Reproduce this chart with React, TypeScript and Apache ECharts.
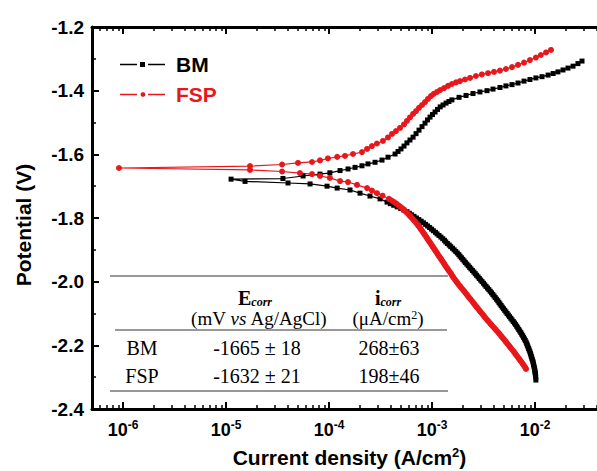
import React, { useEffect, useRef } from "react";
import * as echarts from "echarts";

// ---------- data: [potential (V), current density (A/cm2)], in measurement order ----------
const bmCurve: [number, number][] = [
  [-2.309, 1.02e-2], [-2.3, 1.016e-2], [-2.295, 1.012e-2], [-2.29, 1.007e-2], [-2.285, 1.002e-2], [-2.28, 9.98e-3],
  [-2.275, 9.91e-3], [-2.27, 9.84e-3], [-2.265, 9.76e-3], [-2.26, 9.68e-3], [-2.255, 9.6e-3], [-2.25, 9.53e-3],
  [-2.245, 9.42e-3], [-2.24, 9.31e-3], [-2.235, 9.21e-3], [-2.23, 9.12e-3], [-2.225, 9.02e-3], [-2.22, 8.91e-3],
  [-2.215, 8.79e-3], [-2.21, 8.67e-3], [-2.205, 8.55e-3], [-2.2, 8.43e-3], [-2.195, 8.32e-3], [-2.19, 8.2e-3],
  [-2.185, 8.05e-3], [-2.18, 7.89e-3], [-2.175, 7.74e-3], [-2.17, 7.59e-3], [-2.165, 7.43e-3], [-2.16, 7.28e-3],
  [-2.155, 7.11e-3], [-2.15, 6.95e-3], [-2.145, 6.79e-3], [-2.14, 6.64e-3], [-2.135, 6.48e-3], [-2.13, 6.32e-3],
  [-2.125, 6.15e-3], [-2.12, 5.98e-3], [-2.115, 5.82e-3], [-2.11, 5.66e-3], [-2.105, 5.51e-3], [-2.1, 5.36e-3],
  [-2.095, 5.22e-3], [-2.09, 5.08e-3], [-2.085, 4.94e-3], [-2.08, 4.81e-3], [-2.075, 4.69e-3], [-2.07, 4.57e-3],
  [-2.065, 4.46e-3], [-2.06, 4.35e-3], [-2.055, 4.23e-3], [-2.05, 4.11e-3], [-2.045, 4.0e-3], [-2.04, 3.89e-3],
  [-2.035, 3.78e-3], [-2.03, 3.67e-3], [-2.025, 3.56e-3], [-2.02, 3.46e-3], [-2.015, 3.35e-3], [-2.01, 3.25e-3],
  [-2.005, 3.16e-3], [-2.0, 3.06e-3], [-1.995, 2.97e-3], [-1.99, 2.88e-3], [-1.985, 2.8e-3], [-1.98, 2.71e-3],
  [-1.975, 2.63e-3], [-1.97, 2.55e-3], [-1.965, 2.47e-3], [-1.96, 2.39e-3], [-1.955, 2.32e-3], [-1.95, 2.25e-3],
  [-1.945, 2.18e-3], [-1.94, 2.11e-3], [-1.935, 2.05e-3], [-1.93, 1.99e-3], [-1.925, 1.93e-3], [-1.92, 1.87e-3],
  [-1.915, 1.82e-3], [-1.91, 1.76e-3], [-1.905, 1.7e-3], [-1.9, 1.64e-3], [-1.895, 1.58e-3], [-1.89, 1.52e-3],
  [-1.885, 1.47e-3], [-1.88, 1.41e-3], [-1.875, 1.36e-3], [-1.87, 1.32e-3], [-1.865, 1.27e-3], [-1.86, 1.22e-3],
  [-1.855, 1.17e-3], [-1.85, 1.12e-3], [-1.845, 1.08e-3], [-1.84, 1.03e-3], [-1.835, 9.9e-4], [-1.83, 9.48e-4],
  [-1.825, 9.07e-4], [-1.82, 8.67e-4], [-1.815, 8.25e-4], [-1.81, 7.85e-4], [-1.805, 7.45e-4], [-1.8, 7.06e-4],
  [-1.795, 6.69e-4], [-1.79, 6.34e-4], [-1.785, 6.02e-4], [-1.78, 5.71e-4], [-1.775, 5.33e-4], [-1.77, 4.97e-4],
  [-1.765, 4.59e-4], [-1.76, 4.25e-4], [-1.755, 3.94e-4], [-1.75, 3.66e-4], [-1.74, 3.13e-4], [-1.731, 2.5e-4],
  [-1.722, 2.0e-4], [-1.712, 1.6e-4], [-1.706, 1.2e-4], [-1.7, 9.57e-5], [-1.693, 6.55e-5], [-1.69, 4.0e-5],
  [-1.685, 1.53e-5], [-1.678, 1.12e-5],
  [-1.676, 3.57e-5], [-1.668, 5.6e-5], [-1.662, 8.18e-5], [-1.658, 1.02e-4], [-1.651, 1.28e-4], [-1.646, 1.53e-4],
  [-1.641, 1.79e-4], [-1.636, 2.09e-4], [-1.63, 2.39e-4], [-1.625, 2.8e-4], [-1.618, 3.27e-4], [-1.609, 3.74e-4],
  [-1.599, 4.38e-4], [-1.591, 4.68e-4], [-1.583, 5.0e-4], [-1.574, 5.35e-4], [-1.564, 5.71e-4], [-1.555, 6.11e-4],
  [-1.546, 6.55e-4], [-1.535, 7.0e-4], [-1.524, 7.48e-4], [-1.513, 8.0e-4], [-1.502, 8.55e-4], [-1.492, 9.04e-4],
  [-1.483, 9.57e-4], [-1.475, 1.01e-3], [-1.467, 1.07e-3], [-1.459, 1.13e-3], [-1.451, 1.2e-3], [-1.445, 1.28e-3],
  [-1.439, 1.37e-3], [-1.434, 1.46e-3], [-1.429, 1.56e-3], [-1.421, 1.83e-3], [-1.415, 2.14e-3], [-1.409, 2.5e-3],
  [-1.404, 2.92e-3], [-1.4, 3.42e-3], [-1.395, 3.91e-3], [-1.39, 4.57e-3], [-1.385, 5.22e-3], [-1.381, 5.98e-3],
  [-1.376, 6.84e-3], [-1.37, 7.82e-3], [-1.365, 8.93e-3], [-1.36, 1.02e-2], [-1.356, 1.17e-2], [-1.351, 1.34e-2],
  [-1.346, 1.5e-2], [-1.341, 1.67e-2], [-1.335, 1.87e-2], [-1.329, 2.09e-2], [-1.323, 2.34e-2], [-1.315, 2.61e-2],
  [-1.307, 2.86e-2],
];

const fspCurve: [number, number][] = [
  [-2.274, 8.18e-3], [-2.27, 8.04e-3], [-2.265, 7.85e-3], [-2.26, 7.67e-3], [-2.255, 7.48e-3], [-2.25, 7.29e-3],
  [-2.245, 7.1e-3], [-2.24, 6.92e-3], [-2.235, 6.74e-3], [-2.23, 6.56e-3], [-2.225, 6.39e-3], [-2.22, 6.22e-3],
  [-2.215, 6.05e-3], [-2.21, 5.87e-3], [-2.205, 5.71e-3], [-2.2, 5.56e-3], [-2.195, 5.4e-3], [-2.19, 5.25e-3],
  [-2.185, 5.1e-3], [-2.18, 4.95e-3], [-2.175, 4.81e-3], [-2.17, 4.67e-3], [-2.165, 4.54e-3], [-2.16, 4.41e-3],
  [-2.155, 4.27e-3], [-2.15, 4.14e-3], [-2.145, 4.01e-3], [-2.14, 3.88e-3], [-2.135, 3.76e-3], [-2.13, 3.65e-3],
  [-2.125, 3.53e-3], [-2.12, 3.42e-3], [-2.115, 3.32e-3], [-2.11, 3.23e-3], [-2.105, 3.14e-3], [-2.1, 3.05e-3],
  [-2.095, 2.96e-3], [-2.09, 2.88e-3], [-2.085, 2.8e-3], [-2.08, 2.72e-3], [-2.075, 2.64e-3], [-2.07, 2.57e-3],
  [-2.065, 2.5e-3], [-2.06, 2.43e-3], [-2.055, 2.36e-3], [-2.05, 2.29e-3], [-2.045, 2.23e-3], [-2.04, 2.17e-3],
  [-2.035, 2.11e-3], [-2.03, 2.05e-3], [-2.025, 1.99e-3], [-2.02, 1.93e-3], [-2.015, 1.88e-3], [-2.01, 1.82e-3],
  [-2.005, 1.77e-3], [-2.0, 1.73e-3], [-1.995, 1.68e-3], [-1.99, 1.64e-3], [-1.985, 1.6e-3], [-1.98, 1.56e-3],
  [-1.975, 1.53e-3], [-1.97, 1.49e-3], [-1.965, 1.45e-3], [-1.96, 1.42e-3], [-1.955, 1.38e-3], [-1.95, 1.35e-3],
  [-1.945, 1.32e-3], [-1.94, 1.29e-3], [-1.935, 1.26e-3], [-1.93, 1.23e-3], [-1.925, 1.2e-3], [-1.92, 1.17e-3],
  [-1.915, 1.14e-3], [-1.91, 1.12e-3], [-1.905, 1.09e-3], [-1.9, 1.065e-3], [-1.895, 1.04e-3], [-1.89, 1.016e-3],
  [-1.885, 9.91e-4], [-1.88, 9.69e-4], [-1.875, 9.46e-4], [-1.87, 9.23e-4], [-1.865, 9.02e-4], [-1.86, 8.8e-4],
  [-1.855, 8.61e-4], [-1.85, 8.4e-4], [-1.845, 8.19e-4], [-1.84, 8.0e-4], [-1.835, 7.8e-4], [-1.83, 7.6e-4],
  [-1.825, 7.39e-4], [-1.82, 7.2e-4], [-1.815, 6.99e-4], [-1.81, 6.79e-4], [-1.805, 6.58e-4], [-1.8, 6.38e-4],
  [-1.795, 6.17e-4], [-1.79, 5.97e-4], [-1.785, 5.77e-4], [-1.78, 5.57e-4], [-1.775, 5.36e-4], [-1.77, 5.16e-4],
  [-1.765, 4.94e-4], [-1.76, 4.73e-4], [-1.755, 4.51e-4], [-1.75, 4.29e-4], [-1.745, 4.06e-4], [-1.74, 3.82e-4],
  [-1.73, 3.31e-4], [-1.722, 2.92e-4], [-1.714, 2.61e-4], [-1.706, 2.34e-4], [-1.696, 1.87e-4], [-1.687, 1.53e-4],
  [-1.684, 1.28e-4], [-1.674, 1.02e-4], [-1.668, 8.18e-5], [-1.662, 6.84e-5], [-1.659, 5.22e-5], [-1.654, 3.5e-5],
  [-1.649, 1.71e-5], [-1.643, 9.14e-7],
  [-1.637, 1.71e-5], [-1.632, 3.5e-5], [-1.627, 5.0e-5], [-1.624, 6.84e-5], [-1.619, 8.18e-5], [-1.613, 9.77e-5],
  [-1.608, 1.2e-4], [-1.605, 1.43e-4], [-1.599, 1.71e-4], [-1.593, 2.09e-4], [-1.583, 2.34e-4], [-1.574, 2.61e-4],
  [-1.566, 2.92e-4], [-1.558, 3.34e-4], [-1.547, 3.74e-4], [-1.536, 4.09e-4], [-1.527, 4.47e-4], [-1.517, 4.89e-4],
  [-1.506, 5.35e-4], [-1.495, 5.71e-4], [-1.484, 6.11e-4], [-1.473, 6.55e-4], [-1.464, 7.0e-4], [-1.454, 7.48e-4],
  [-1.445, 8.0e-4], [-1.436, 8.55e-4], [-1.426, 9.14e-4], [-1.417, 9.77e-4], [-1.41, 1.04e-3], [-1.404, 1.12e-3],
  [-1.398, 1.2e-3], [-1.392, 1.31e-3], [-1.385, 1.43e-3], [-1.379, 1.56e-3], [-1.374, 1.71e-3], [-1.37, 1.87e-3],
  [-1.365, 2.09e-3], [-1.36, 2.34e-3], [-1.354, 2.67e-3], [-1.349, 3.05e-3], [-1.345, 3.5e-3], [-1.341, 4.0e-3],
  [-1.337, 4.57e-3], [-1.332, 5.22e-3], [-1.326, 5.98e-3], [-1.319, 6.84e-3], [-1.312, 7.82e-3], [-1.304, 8.93e-3],
  [-1.296, 1.02e-2], [-1.288, 1.14e-2], [-1.28, 1.28e-2], [-1.272, 1.43e-2],
];

const seriesNames = ["BM", "FSP"];

// axes
const xMin = 5e-7;
const xMax = 0.05;
const xMajorTicks = [1e-6, 1e-5, 1e-4, 1e-3, 1e-2];
const xDecades = [1e-7, 1e-6, 1e-5, 1e-4, 1e-3, 1e-2];
const xMinorSteps = [2, 3, 4, 5, 6, 7, 8, 9];
const yMin = -2.4;
const yMax = -1.2;
const yInterval = 0.2;

// inset table
const tableHeadSymbols = ["E", "i"];
const tableHeadSub = "corr";
const tableHeadUnits = ["(mV {it|vs} Ag/AgCl)", "(\u03bcA/cm{sup|2})"];
const tableSamples = ["BM", "FSP"];
const tableEcorr = ["-1665 \u00b1 18", "-1632 \u00b1 21"];
const tableIcorr = ["268\u00b163", "198\u00b146"];

const RED = "#e8171c";
const SANS = '"Liberation Sans", Arial, sans-serif';
const SERIF = '"Liberation Serif", "Times New Roman", serif';

const ICON_BM = "path://M0,3.25H17V4.75H0Z M20,1.5H25V6.5H20Z M28,3.25H45V4.75H28Z";
const ICON_FSP =
  "path://M0,3.25H17V4.75H0Z M25.3,4.95L23.95,6.3L22.05,6.3L20.7,4.95L20.7,3.05L22.05,1.7L23.95,1.7L25.3,3.05Z M28,3.25H45V4.75H28Z";

const CHART_W = 620;
const CHART_H = 471;

export default function App() {
  const ref = useRef<HTMLDivElement>(null);

  useEffect(() => {
    document.body.style.margin = "0";
    if (!ref.current) return;
    const chart = echarts.init(ref.current, null, { renderer: "svg" });

    const xMinorTicks: number[] = [];
    xDecades.forEach((d) =>
      xMinorSteps.forEach((k) => {
        const v = k * d;
        if (v > xMin && v < xMax) xMinorTicks.push(v);
      })
    );

    const majorTick = (vals?: number[]) => ({
      show: true,
      inside: true,
      length: 7,
      ...(vals ? { customValues: vals } : {}),
      lineStyle: { color: "#000", width: 2 },
    });
    const minorTickCfg = (vals: number[]) => ({
      show: true,
      inside: true,
      length: 4,
      customValues: vals,
      lineStyle: { color: "#000", width: 1.5 },
    });
    const axisLineCfg = { show: true, onZero: false, lineStyle: { color: "#000", width: 3 } };

    const xBase: any = {
      type: "log",
      logBase: 10,
      min: xMin,
      max: xMax,
      splitLine: { show: false },
      axisLabel: { show: false },
      axisTick: { show: false },
      axisLine: { show: false },
    };
    const yBase: any = {
      type: "value",
      min: yMin,
      max: yMax,
      interval: yInterval,
      splitLine: { show: false },
      axisLine: axisLineCfg,
      axisTick: majorTick(),
      minorTick: { show: true, splitNumber: 2, length: 4, lineStyle: { color: "#000", width: 1.5 } },
    };

    const colX = [255, 388];
    const graphics: any[] = [];
    const hLines = [
      { y: 276, x1: 110, x2: 448 },
      { y: 330, x1: 115, x2: 447 },
      { y: 391, x1: 110, x2: 448 },
    ];
    hLines.forEach((l) =>
      graphics.push({
        type: "line",
        shape: { x1: l.x1, y1: l.y, x2: l.x2, y2: l.y },
        style: { stroke: "#333", lineWidth: 1 },
      })
    );
    const serifRich = {
      b: { fontFamily: SERIF, fontSize: 20, fontWeight: "bold", fill: "#000", lineHeight: 20 },
      sub: { fontFamily: SERIF, fontSize: 12, fontWeight: "bold", fontStyle: "italic", fill: "#000", lineHeight: 10, verticalAlign: "bottom" },
      it: { fontFamily: SERIF, fontSize: 19, fontStyle: "italic", fill: "#000", lineHeight: 18 },
      sup: { fontFamily: SERIF, fontSize: 12, fill: "#000", lineHeight: 10, verticalAlign: "top" },
    };
    tableHeadSymbols.forEach((s, i) => {
      graphics.push({
        type: "text",
        x: colX[i],
        y: 298,
        style: { text: `{b|${s}}{sub|${tableHeadSub}}`, rich: serifRich, align: "center", verticalAlign: "middle", fontFamily: SERIF, fontSize: 20, lineHeight: 20 },
      });
      graphics.push({
        type: "text",
        x: colX[i] + (i === 0 ? 4 : 0),
        y: 318,
        style: { text: tableHeadUnits[i], rich: serifRich, align: "center", verticalAlign: "middle", fontFamily: SERIF, fontSize: 19, lineHeight: 18, fill: "#000" },
      });
    });
    const rowY = [348, 376];
    tableSamples.forEach((s, r) => {
      [s, tableEcorr[r], tableIcorr[r]].forEach((t, c) => {
        graphics.push({
          type: "text",
          x: [142, 257, 389][c],
          y: rowY[r],
          style: { text: t, align: "center", verticalAlign: "middle", fontFamily: SERIF, fontSize: 20, fill: "#000" },
        });
      });
    });

    const option: any = {
      animation: false,
      backgroundColor: "#fff",
      grid: { left: 92, top: 27, right: CHART_W - 607, bottom: CHART_H - 409, containLabel: false, outerBoundsMode: "none" },
      legend: {
        orient: "vertical",
        left: 115,
        top: 49,
        itemWidth: 45,
        itemHeight: 8,
        itemGap: 9,
        itemStyle: { borderWidth: 0 },
        data: [
          { name: seriesNames[0], icon: ICON_BM, textStyle: { color: "#000" } },
          { name: seriesNames[1], icon: ICON_FSP, textStyle: { color: RED } },
        ],
        textStyle: { fontSize: 21, fontWeight: "bold", fontFamily: SANS, padding: [0, 0, 0, 6] },
      },
      xAxis: [
        {
          ...xBase,
          position: "bottom",
          axisLine: axisLineCfg,
          axisTick: majorTick(xMajorTicks),
          axisLabel: {
            show: true,
            customValues: xMajorTicks,
            margin: 10,
            formatter: (v: number) => `{b|10}{s|${Math.round(Math.log10(v))}}`,
            rich: {
              b: { fontSize: 18, fontWeight: "bold", fontFamily: SANS, color: "#000", lineHeight: 22 },
              s: { fontSize: 12, fontWeight: "bold", fontFamily: SANS, color: "#000", lineHeight: 12, verticalAlign: "top" },
            },
          },
          name: "Current density (A/cm{s|2})",
          nameLocation: "middle",
          nameGap: 37,
          nameTextStyle: {
            fontSize: 21,
            fontWeight: "bold",
            fontFamily: SANS,
            color: "#000",
            lineHeight: 22,
            rich: {
              s: { fontSize: 13, fontWeight: "bold", fontFamily: SANS, color: "#000", lineHeight: 12, verticalAlign: "top" },
            },
          },
        },
        { ...xBase, position: "bottom", axisTick: minorTickCfg(xMinorTicks) },
        { ...xBase, position: "top", axisLine: axisLineCfg, axisTick: majorTick(xMajorTicks) },
        { ...xBase, position: "top", axisTick: minorTickCfg(xMinorTicks) },
      ],
      yAxis: [
        {
          ...yBase,
          position: "left",
          axisLabel: {
            margin: 8,
            fontSize: 19,
            fontWeight: "bold",
            fontFamily: SANS,
            color: "#000",
            formatter: (v: number) => v.toFixed(1),
          },
          name: "Potential (V)",
          nameLocation: "middle",
          nameGap: 58,
          nameTextStyle: { fontSize: 21, fontWeight: "bold", fontFamily: SANS, color: "#000", padding: [0, 14, 0, 0] },
        },
        { ...yBase, position: "right", axisLabel: { show: false } },
      ],
      series: [
        {
          name: seriesNames[0],
          type: "line",
          xAxisIndex: 0,
          yAxisIndex: 0,
          data: bmCurve.map(([e, i]) => [i, e]),
          symbol: "rect",
          symbolSize: 5,
          showAllSymbol: true,
          color: "#000",
          itemStyle: { color: "#000" },
          lineStyle: { color: "#000", width: 1.2 },
        },
        {
          name: seriesNames[1],
          type: "line",
          xAxisIndex: 0,
          yAxisIndex: 0,
          data: fspCurve.map(([e, i]) => [i, e]),
          symbol: "circle",
          symbolSize: 6,
          showAllSymbol: true,
          color: RED,
          itemStyle: { color: RED },
          lineStyle: { color: RED, width: 1.2 },
        },
      ],
      graphic: graphics,
    };

    chart.setOption(option);
    return () => chart.dispose();
  }, []);

  return (
    <div style={{ width: 597, height: CHART_H, overflow: "hidden", position: "relative" }}>
      <div ref={ref} style={{ width: CHART_W, height: CHART_H }} />
    </div>
  );
}
